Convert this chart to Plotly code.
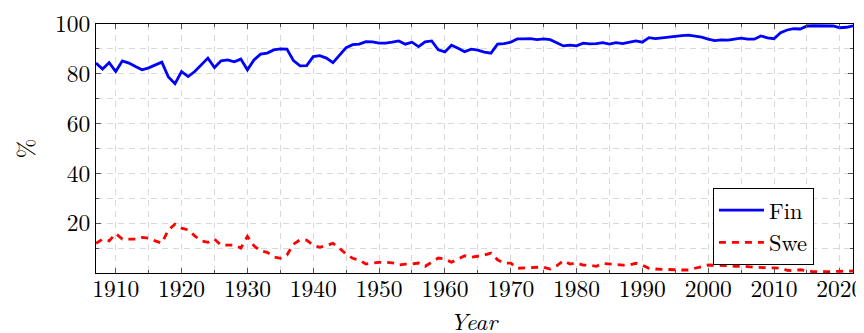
import plotly.graph_objects as go

years = list(range(1907, 2023))

fin = [84.3, 81.9, 84.5, 80.9, 85.2, 84.3, 82.9, 81.6, 82.4, 83.6,
       84.7, 78.7, 76.0, 80.9, 78.9, 80.9, 83.6, 86.3, 82.5, 85.2,
       85.6, 84.8, 85.9, 81.6, 85.6, 87.9, 88.3, 89.6, 90.0, 89.9,
       85.3, 83.2, 83.3, 86.9, 87.3, 86.3, 84.5, 87.6, 90.5, 91.7,
       91.9, 92.9, 92.8, 92.3, 92.3, 92.7, 93.2, 91.9, 92.7, 90.9,
       92.8, 93.2, 89.6, 88.8, 91.5, 90.3, 88.9, 89.9, 89.5, 88.7,
       88.3, 91.9, 92.1, 92.7, 94.0, 94.0, 94.1, 93.7, 94.0, 93.7,
       92.3, 91.2, 91.5, 91.2, 92.3, 92.0, 92.1, 92.5, 91.9, 92.5,
       92.1, 92.7, 93.2, 92.7, 94.5, 94.1, 94.4, 94.9, 95.3, 95.3,
       95.5, 95.2, 94.7, 93.9, 93.3, 93.6, 93.5, 93.9, 94.3, 93.9,
       93.9, 95.2, 94.4, 94.1, 96.5, 97.6, 98.1, 98.0, 99.2, 99.3,
       99.3, 99.3, 99.2, 98.5, 98.7, 99.3]

swe = [11.9, 13.6, 12.9, 15.8, 13.6, 13.6, 13.6, 14.3, 14.0, 12.9,
       12.0, 17.3, 19.6, 18.0, 17.3, 14.9, 12.9, 12.3, 13.6, 11.2,
       11.2, 11.2, 10.0, 14.7, 10.9, 8.9, 8.3, 6.5, 5.9, 7.2,
       11.6, 13.3, 13.2, 11.2, 10.3, 11.0, 11.9, 9.9, 7.6, 5.9,
       5.2, 3.6, 4.0, 4.3, 4.3, 4.1, 3.2, 3.6, 3.6, 4.0,
       2.7, 4.3, 6.0, 5.6, 4.3, 5.6, 6.9, 6.3, 6.7, 7.2,
       8.0, 5.3, 4.0, 4.0, 1.9, 1.9, 2.1, 2.3, 2.3, 1.6,
       2.9, 4.9, 3.6, 4.0, 3.2, 3.1, 2.7, 3.8, 3.6, 3.2,
       3.2, 3.2, 3.9, 3.2, 1.9, 1.6, 1.6, 1.3, 1.3, 1.2,
       1.2, 1.9, 2.7, 3.2, 3.1, 3.1, 3.0, 2.7, 2.7, 2.6,
       2.3, 2.2, 2.3, 2.3, 1.9, 1.1, 0.9, 1.3, 0.9, 0.5,
       0.5, 0.5, 0.5, 0.5, 0.7, 0.8]

x_ticks = [1910, 1920, 1930, 1940, 1950, 1960, 1970, 1980, 1990, 2000, 2010, 2020]
y_ticks = [20, 40, 60, 80, 100]

FONT = "Latin Modern Roman, Liberation Serif, serif"
GRID = "#d9d9d9"

fig = go.Figure()
fig.add_trace(go.Scatter(x=years, y=fin, mode="lines", name="Fin",
                         line=dict(color="#0000ff", width=2.8)))
fig.add_trace(go.Scatter(x=years, y=swe, mode="lines", name="Swe",
                         line=dict(color="#ff0000", width=2.8, dash="7px,6px")))

axis_common = dict(
    showline=True, linecolor="black", linewidth=1, mirror="allticks",
    ticks="inside", ticklen=5, tickcolor="#555555", tickwidth=1,
    showgrid=True, gridcolor=GRID, gridwidth=1, griddash="6px,5px",
    zeroline=False, automargin=False, ticklabeloverflow="allow",
    tickfont=dict(family=FONT, size=23.5, color="black"),
)

fig.update_xaxes(
    range=[1907, 2022], tickvals=x_ticks, ticktext=[str(v) for v in x_ticks],
    ticklabelstandoff=-5,
    minor=dict(dtick=5, tick0=1905, ticks="inside", ticklen=3, tickcolor="#555555",
               showgrid=True, gridcolor=GRID, griddash="6px,5px"),
    **axis_common,
)
fig.update_yaxes(
    range=[0, 100], tickvals=y_ticks, ticktext=[str(v) for v in y_ticks],
    minor=dict(dtick=10, tick0=0, ticks="inside", ticklen=3, tickcolor="#555555",
               showgrid=True, gridcolor=GRID, griddash="6px,5px"),
    title=dict(text="%", font=dict(family=FONT, size=23.5, color="black"), standoff=29),
    **axis_common,
)

# x-axis title placed below the tick labels
fig.add_annotation(text="<i>Year</i>", xref="paper", yref="paper", x=0.5, y=-0.19,
                   xanchor="center", yanchor="middle", showarrow=False,
                   font=dict(family=FONT, size=23.5, color="black"))

# page body adds an 8px offset; figure sized so the plot area lands at x 96-853, y 24-273
fig.update_layout(
    width=856, height=325,
    margin=dict(l=88, r=11, t=16, b=60),
    paper_bgcolor="white", plot_bgcolor="white",
    showlegend=True,
    legend=dict(x=0.815, y=0.032, xanchor="left", yanchor="bottom",
                bgcolor="white", bordercolor="black", borderwidth=1,
                font=dict(family=FONT, size=22.5, color="black"),
                tracegroupgap=0, itemwidth=45),
)

fig.write_html("out.html")
